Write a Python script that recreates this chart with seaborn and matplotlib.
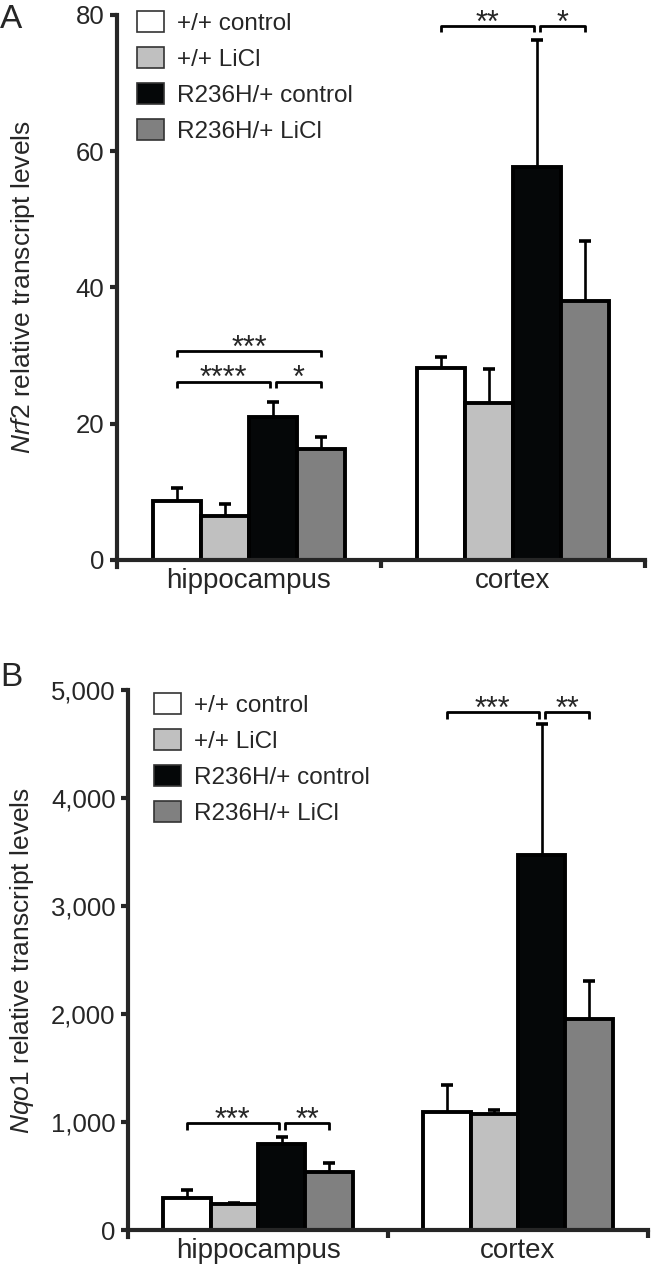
import numpy as np
import pandas as pd
import matplotlib
matplotlib.use("Agg")
import matplotlib.pyplot as plt
from matplotlib.patches import Patch
from matplotlib.ticker import FuncFormatter
import seaborn as sns

# categories and groups
regions = ["hippocampus", "cortex"]
groups = ["+/+ control", "+/+ LiCl", "R236H/+ control", "R236H/+ LiCl"]
colors = ["#ffffff", "#c0c0c0", "#050708", "#808080"]

# Panel A: Nrf2, values per group as [hippocampus, cortex]
nrf2_wt_ctrl = [8.7, 28.2]
nrf2_wt_licl = [6.4, 23.0]
nrf2_mut_ctrl = [21.0, 57.7]
nrf2_mut_licl = [16.3, 38.0]
nrf2_err_wt_ctrl = [1.9, 1.6]
nrf2_err_wt_licl = [1.8, 5.1]
nrf2_err_mut_ctrl = [2.2, 18.6]
nrf2_err_mut_licl = [1.8, 8.8]

# Panel B: Nqo1
nqo1_wt_ctrl = [293, 1095]
nqo1_wt_licl = [238, 1077]
nqo1_mut_ctrl = [796, 3476]
nqo1_mut_licl = [540, 1958]
nqo1_err_wt_ctrl = [77, 248]
nqo1_err_wt_licl = [12, 30]
nqo1_err_mut_ctrl = [62, 1207]
nqo1_err_mut_licl = [83, 345]

# significance brackets: (region index, group a, group b, height, label)
nrf2_sig = [(0, 0, 3, 30.7, "***"), (0, 0, 2, 26.2, "****"), (0, 2, 3, 26.2, "*"),
            (1, 0, 2, 78.4, "**"), (1, 2, 3, 78.4, "*")]
nqo1_sig = [(0, 0, 2, 990, "***"), (0, 2, 3, 990, "**"),
            (1, 0, 2, 4796, "***"), (1, 2, 3, 4796, "**")]

sns.set_style("ticks")
plt.rcParams["font.family"] = ["Liberation Sans", "DejaVu Sans"]
plt.rcParams["mathtext.fontset"] = "custom"
plt.rcParams["mathtext.it"] = "Liberation Sans:italic"
plt.rcParams["mathtext.rm"] = "Liberation Sans"


def make_df(means):
    rows = []
    for g, vals in zip(groups, means):
        for r, v in zip(regions, vals):
            rows.append({"region": r, "group": g, "value": v})
    return pd.DataFrame(rows)


def draw_panel(ax, means, errs, sig, ymax, ystep, ylabel, fmt, leg_anchor, label_x):
    df = make_df(means)
    sns.barplot(data=df, x="region", y="value", hue="group", order=regions,
                hue_order=groups, palette=colors, saturation=1, width=0.73,
                errorbar=None, edgecolor="black", linewidth=2.8, ax=ax)

    # one-sided error bars (hide the cap sitting on the bar top)
    centers = []
    for cont, m, e in zip(ax.containers, means, errs):
        xs = [b.get_x() + b.get_width() / 2 for b in cont]
        centers.append(xs)
        eb = ax.errorbar(xs, m, yerr=[np.zeros(len(e)), e], fmt="none", ecolor="black",
                         elinewidth=1.9, capsize=4, capthick=2.6, zorder=1)
        for cl in eb[1]:
            if np.allclose(cl.get_ydata(), m):
                cl.set_visible(False)

    hook = ymax * 0.012
    for r, a, b, y, lab in sig:
        x1 = centers[a][r] + (0.012 if a == 2 else 0)
        x2 = centers[b][r] - (0.012 if b == 2 else 0)
        ax.plot([x1, x1, x2, x2], [y - hook, y, y, y - hook], color="black",
                lw=2.0, solid_capstyle="butt", clip_on=False)
        ax.annotate(lab, xy=((x1 + x2) / 2, y), xytext=(0, -4),
                    textcoords="offset points", ha="center", va="baseline",
                    fontsize=22)

    ax.set_xlim(-0.5, 1.5)
    ax.set_ylim(0, ymax)
    ax.set_yticks(np.arange(0, ymax + 1, ystep))
    ax.yaxis.set_major_formatter(FuncFormatter(fmt))
    ax.set_xlabel("")
    ax.set_ylabel(ylabel, fontsize=19)
    ax.yaxis.set_label_coords(label_x, 0.5)
    ax.set_xticks([0, 1])
    ax.set_xticklabels(regions)
    ax.set_xticks([0.5, 1.5], minor=True)
    ax.tick_params(axis="x", which="major", length=0, pad=6, labelsize=20)
    ax.tick_params(axis="x", which="minor", length=6, width=3)
    ax.tick_params(axis="y", length=5, width=3, pad=4, labelsize=18.5)
    for s in ["left", "bottom"]:
        ax.spines[s].set_linewidth(3)
    sns.despine(ax=ax)
    ax.spines["left"].set_bounds(-ymax * 0.013, ymax)

    handles = [Patch(facecolor=c, edgecolor="#333333", linewidth=1.2) for c in colors]
    ax.legend(handles, groups, loc="upper left", bbox_to_anchor=leg_anchor,
              frameon=False, fontsize=17.5, handlelength=1.1, handleheight=0.95,
              handletextpad=0.55, labelspacing=0.5, borderpad=0, borderaxespad=0)


fig = plt.figure(figsize=(6.52, 12.73), dpi=100)
ax_a = fig.add_axes([117 / 652, 1 - 560 / 1273, 528 / 652, 545 / 1273])
ax_b = fig.add_axes([128 / 652, 1 - 1230 / 1273, 520 / 652, 540 / 1273])

draw_panel(ax_a,
           [nrf2_wt_ctrl, nrf2_wt_licl, nrf2_mut_ctrl, nrf2_mut_licl],
           [nrf2_err_wt_ctrl, nrf2_err_wt_licl, nrf2_err_mut_ctrl, nrf2_err_mut_licl],
           nrf2_sig, 80, 20, r"$\it{Nrf2}$ relative transcript levels",
           lambda v, p: f"{int(v)}", (0.038, 1.007), -0.152)

draw_panel(ax_b,
           [nqo1_wt_ctrl, nqo1_wt_licl, nqo1_mut_ctrl, nqo1_mut_licl],
           [nqo1_err_wt_ctrl, nqo1_err_wt_licl, nqo1_err_mut_ctrl, nqo1_err_mut_licl],
           nqo1_sig, 5000, 1000, r"$\it{Nqo1}$ relative transcript levels",
           lambda v, p: f"{int(v):,}", (0.05, 0.995), -0.176)

fig.text(0.0, 1 - 4 / 1273, "A", fontsize=24, va="top", ha="left")
fig.text(0.0, 1 - 662 / 1273, "B", fontsize=24, va="top", ha="left")

fig.savefig("out.png", dpi=100)
